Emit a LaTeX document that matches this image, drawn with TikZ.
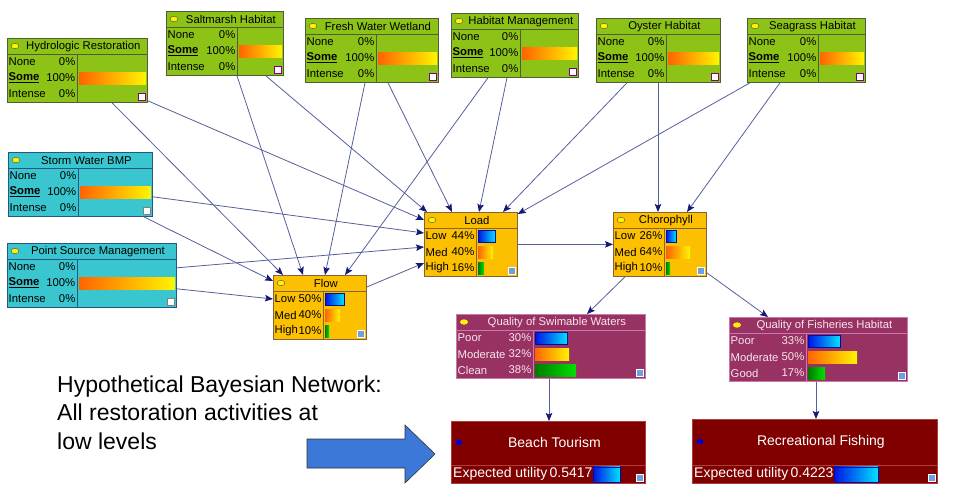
\documentclass[tikz,border=0pt]{standalone}
\usepackage{fontspec}
\setmainfont{Liberation Sans}
\usetikzlibrary{arrows.meta, calc}

\definecolor{actfill}{RGB}{141,194,22}
\definecolor{actedge}{RGB}{80,92,60}
\definecolor{stormfill}{RGB}{58,198,206}
\definecolor{stormedge}{RGB}{40,85,135}
\definecolor{midfill}{RGB}{252,192,0}
\definecolor{midedge}{RGB}{130,100,55}
\definecolor{qualfill}{RGB}{152,50,98}
\definecolor{qualedge}{RGB}{200,120,170}
\definecolor{qualtext}{RGB}{248,228,238}
\definecolor{utilfill}{RGB}{128,0,0}
\definecolor{utiledge}{RGB}{175,60,60}
\definecolor{linkcol}{RGB}{85,95,155}
\definecolor{tipcol}{RGB}{20,25,120}
\definecolor{pointerblue}{RGB}{60,120,216}
\definecolor{barblue}{RGB}{0,20,230}
\definecolor{barcyan}{RGB}{0,225,255}
\definecolor{barorange}{RGB}{255,100,0}
\definecolor{baryellow}{RGB}{255,245,0}
\definecolor{bargreen}{RGB}{0,225,0}
\definecolor{checkblue}{RGB}{110,160,225}

\tikzset{
    every node/.style={inner sep=0pt, font=\fontsize{11.3}{13}\selectfont}, % texts of the network
    link/.style={draw=linkcol, line width=0.8pt, -{Stealth[length=8pt, width=6.5pt, inset=1.5pt, color=tipcol]}}, % arcs
    act box/.style={draw=actedge, fill=actfill, line width=0.8pt}, % restoration activities
    act line/.style={draw=actedge, line width=0.6pt},
    act text/.style={text=black},
    act dot/.style={draw=black!70, fill=yellow, line width=0.4pt},
    act icon/.style={draw=violet, fill=white, line width=0.5pt, minimum size=7pt},
    storm box/.style={draw=stormedge, fill=stormfill, line width=0.8pt}, % management nodes
    storm line/.style={draw=stormedge, line width=0.6pt},
    storm text/.style={text=black},
    storm dot/.style={draw=black!70, fill=yellow, line width=0.4pt},
    storm icon/.style={draw=gray, fill=white, line width=0.5pt, minimum size=7pt},
    mid box/.style={draw=midedge, fill=midfill, line width=0.8pt}, % flow, load, chorophyll
    mid line/.style={draw=midedge, line width=0.6pt},
    mid text/.style={text=black},
    mid dot/.style={draw=black!70, fill=yellow, line width=0.4pt},
    mid icon/.style={draw=white, fill=checkblue, line width=0.5pt, minimum size=7pt},
    qual box/.style={draw=qualedge, fill=qualfill, line width=0.8pt}, % water quality nodes
    qual line/.style={draw=qualedge, line width=0.6pt},
    qual text/.style={text=qualtext},
    qual dot/.style={fill=yellow},
    qual icon/.style={draw=white, fill=checkblue, line width=0.5pt, minimum size=7pt},
    util box/.style={draw=utiledge, fill=utilfill, line width=0.8pt}, % utility nodes
    util line/.style={draw=utiledge, line width=0.6pt},
    util text/.style={text=white, font=\fontsize{14}{16}\selectfont},
    somebar/.style={left color=barorange, right color=baryellow},
    lowbar/.style={left color=barblue, right color=barcyan, draw=barblue!70!black, line width=0.3pt},
    medbar/.style={left color=barorange, right color=baryellow},
    highbar/.style={left color=bargreen!55!black, right color=bargreen},
    pointer arrow/.style={fill=pointerblue, draw=black!80, line width=0.6pt},
}

% frame of a chance node: name, x, y, width, divider, kind, title
\newcommand{\bnframe}[7]{%
    \node[#6 box, minimum width=#4pt, minimum height=64pt, anchor=north west] (#1) at (#2,#3) {};
    \draw[#6 line] ([yshift=-16pt]#1.north west) -- ([yshift=-16pt]#1.north east);
    \draw[#6 line] ([xshift=#5pt,yshift=-16pt]#1.north west) -- ([xshift=#5pt]#1.south west);
    \path[#6 dot] ([xshift=8pt,yshift=-8pt]#1.north west) ellipse (4pt and 2.7pt);
    \node[#6 text] (#1-title) at ([xshift=6pt,yshift=-8.5pt]#1.north) {#7};
    \node[#6 icon] (#1-icon) at ([xshift=-6pt,yshift=6pt]#1.south east) {};
}

% one state of a chance node: name, kind, row, label, percent, divider, bar length, bar
\newcommand{\bnrow}[8]{%
    \pgfmathsetmacro{\rowy}{-8-16*#3}
    \node[#2 text, anchor=west] (#1-l#3) at ([xshift=1.5pt,yshift=\rowy pt]#1.north west) {#4};
    \node[#2 text, anchor=east] (#1-p#3) at ([xshift=#6pt-1.5pt,yshift=\rowy pt]#1.north west) {#5};
    \path[#8] ([xshift=#6pt+2pt,yshift=\rowy pt+6pt]#1.north west) rectangle ++(#7,12);
}

% restoration activity set to Some: name, x, y, width, divider, kind, title, bar length
\newcommand{\bninput}[8]{%
    \bnframe{#1}{#2}{#3}{#4}{#5}{#6}{#7}
    \bnrow{#1}{#6}{1}{None}{0\%}{#5}{0}{}
    \bnrow{#1}{#6}{2}{\underline{\textbf{Some}}}{100\%}{#5}{#8}{somebar}
    \bnrow{#1}{#6}{3}{Intense}{0\%}{#5}{0}{}
}

% utility node: name, x, y, width, height, title, value, bar length
\newcommand{\utilnode}[8]{%
    \node[util box, minimum width=#4pt, minimum height=#5pt, anchor=north west] (#1) at (#2,#3) {};
    \draw[util line] ([yshift=19pt]#1.south west) -- ([yshift=19pt]#1.south east);
    \pgfmathsetmacro{\heady}{-(#5-19)/2}
    \fill[blue!85!black] ([xshift=8pt,yshift=\heady pt]#1.north west) ellipse (3.5pt and 2.5pt);
    \node[util text] (#1-title) at ([xshift=6pt,yshift=\heady pt]#1.north) {#6};
    \node[util text, anchor=west] (#1-value) at ([xshift=2pt,yshift=9.5pt]#1.south west) {Expected utility\,#7};
    \path[lowbar] ([xshift=142pt,yshift=17pt]#1.south west) rectangle ++(#8,15);
    \node[mid icon] (#1-icon) at ([xshift=-6pt,yshift=6pt]#1.south east) {};
}

\begin{document}
\begin{tikzpicture}[x=1pt, y=-1pt]
    \useasboundingbox (0,0) rectangle (955,499);

    % restoration activities
    \bninput{hydro}{7}{38}{140}{70}{act}{Hydrologic Restoration}{67}
    \bninput{salt}{166}{11}{117}{71}{act}{Saltmarsh Habitat}{43}
    \bninput{fresh}{305}{18}{133}{71}{act}{Fresh Water Wetland}{59}
    \bninput{habmgmt}{451}{13}{127}{69}{act}{Habitat Management}{55}
    \bninput{oyster}{596}{18}{124}{70}{act}{Oyster Habitat}{51}
    \bninput{seagrass}{747}{18}{118}{71}{act}{Seagrass Habitat}{44}
    \bninput{storm}{8}{152}{144}{70}{storm}{Storm Water BMP}{71}
    \bninput{point}{7}{243}{169}{70}{storm}{Point Source Management}{96}

    % Flow
    \bnframe{flow}{273}{275}{93}{50}{mid}{Flow}
    \bnrow{flow}{mid}{1}{Low}{50\%}{50}{19}{lowbar}
    \bnrow{flow}{mid}{2}{Med}{40\%}{50}{15}{medbar}
    \bnrow{flow}{mid}{3}{High}{10\%}{50}{4}{highbar}

    % Load
    \bnframe{load}{424}{212}{93}{52}{mid}{Load}
    \bnrow{load}{mid}{1}{Low}{44\%}{52}{17}{lowbar}
    \bnrow{load}{mid}{2}{Med}{40\%}{52}{15}{medbar}
    \bnrow{load}{mid}{3}{High}{16\%}{52}{6}{highbar}

    % Chorophyll
    \bnframe{choro}{613}{212}{93}{51}{mid}{Chorophyll}
    \bnrow{choro}{mid}{1}{Low}{26\%}{51}{10}{lowbar}
    \bnrow{choro}{mid}{2}{Med}{64\%}{51}{24}{medbar}
    \bnrow{choro}{mid}{3}{High}{10\%}{51}{4}{highbar}

    % water quality
    \bnframe{swim}{456}{314}{189}{77}{qual}{Quality of Swimable Waters}
    \bnrow{swim}{qual}{1}{Poor}{30\%}{77}{32}{lowbar}
    \bnrow{swim}{qual}{2}{Moderate}{32\%}{77}{34}{medbar}
    \bnrow{swim}{qual}{3}{Clean}{38\%}{77}{41}{highbar}

    \bnframe{fish}{729}{317}{178}{77}{qual}{Quality of Fisheries Habitat}
    \bnrow{fish}{qual}{1}{Poor}{33\%}{77}{32}{lowbar}
    \bnrow{fish}{qual}{2}{Moderate}{50\%}{77}{49}{medbar}
    \bnrow{fish}{qual}{3}{Good}{17\%}{77}{17}{highbar}

    % utilities
    \utilnode{beach}{451}{421}{194}{62}{Beach Tourism}{0.5417}{27}
    \utilnode{recfish}{692}{419}{245}{64}{Recreational Fishing}{0.4223}{44}

    % arcs into Flow
    \draw[link] ([xshift=105pt]hydro.south west) -- ([xshift=10pt]flow.north west);
    \draw[link] ([xshift=71pt]salt.south west) -- ([xshift=30pt]flow.north west);
    \draw[link] ([xshift=60pt]fresh.south west) -- ([xshift=52pt]flow.north west);
    \draw[link] ([xshift=37pt]habmgmt.south west) -- ([xshift=72pt]flow.north west);
    \draw[link] ([xshift=-9pt]storm.south east) -- ([yshift=-6pt]flow.north west);
    \draw[link] ([yshift=19pt]point.south east) -- ([yshift=-24pt]flow.north west);

    % arcs into Load
    \draw[link] ([yshift=2pt]hydro.south east) -- ([yshift=-8pt]load.north west);
    \draw[link] ([yshift=20pt]storm.south east) -- ([yshift=-21pt]load.north west);
    \draw[link] ([yshift=40pt]point.south east) -- ([yshift=-35pt]load.north west);
    \draw[link] ([yshift=-12pt]flow.north east) -- ([yshift=-51pt]load.north west);
    \draw[link] ([xshift=-18pt]salt.south east) -- ([xshift=3pt]load.north west);
    \draw[link] ([xshift=83pt]fresh.south west) -- ([xshift=28pt]load.north west);
    \draw[link] ([xshift=56pt]habmgmt.south west) -- ([xshift=55pt]load.north west);
    \draw[link] ([xshift=31pt]oyster.south west) -- ([xshift=79pt]load.north west);
    \draw[link] ([xshift=3pt]seagrass.south west) -- ([yshift=-2pt]load.north east);

    % arcs into Chorophyll
    \draw[link] (load.east) -- (choro.west);
    \draw[link] ([xshift=62pt]oyster.south west) -- ([xshift=45pt]choro.north west);
    \draw[link] ([xshift=33pt]seagrass.south west) -- ([xshift=74pt]choro.north west);

    % arcs to quality and utilities
    \draw[link] ([xshift=12pt]choro.south west) -- ([xshift=131pt]swim.north west);
    \draw[link] ([yshift=4pt]choro.south east) -- ([xshift=39pt]fish.north west);
    \draw[link] ([xshift=93pt]swim.south west) -- ([xshift=98pt]beach.north west);
    \draw[link] ([xshift=87pt]fish.south west) -- ([xshift=124pt]recfish.north west);

    % caption and big arrow
    \node[anchor=north west, align=left, font=\fontsize{23}{28.5}\selectfont] (caption) at (57,375.5)
        {Hypothetical Bayesian Network:\\All restoration activities at\\low levels};
    \draw[pointer arrow] (307,439) -- (405,439) -- (405,425) -- (435,454) -- (405,483) -- (405,468) -- (307,468) -- cycle;
\end{tikzpicture}
\end{document}
